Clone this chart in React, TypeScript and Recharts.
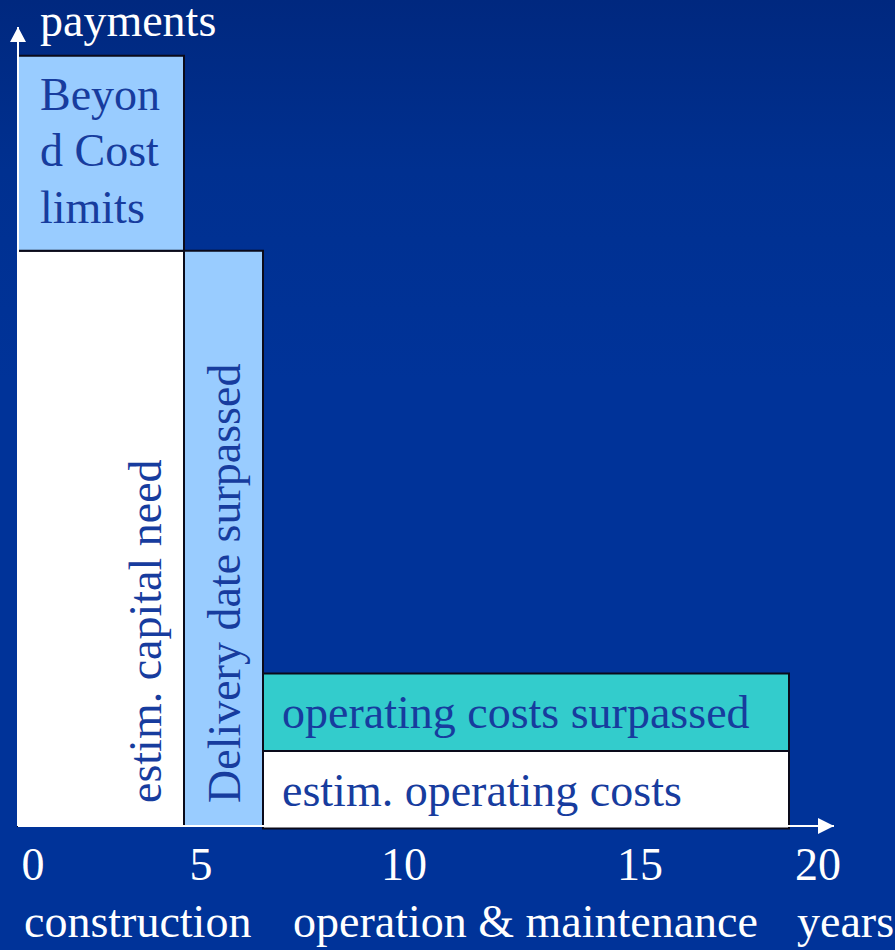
import React from "react";
import { ComposedChart, XAxis, YAxis, ReferenceArea, ReferenceDot, ReferenceLine } from "recharts";

// ---- data ----
const tickYears = [0, 5, 10, 15, 20];
const tickLabels = ["0", "5", "10", "15", "20"];
const blockNames = [
  "estim. capital need",
  "Beyond Cost limits",
  "Delivery date surpassed",
  "estim. operating costs",
  "operating costs surpassed",
];
const blockStartYear = [0, 0, 4.15, 6.125, 6.125];
const blockEndYear = [4.15, 4.15, 6.125, 19.275, 19.275];
const blockLow = [0, 72, 0, -0.3, 9.4];
const blockHigh = [72, 96.4, 72, 9.4, 19.1];
const beyondLines = ["Beyon", "d Cost", "limits"];
const phaseLabels = ["construction", "operation & maintenance", "years"];
const axisTitle = "payments";

// ---- style ----
const FONT = "'Liberation Serif', 'Times New Roman', serif";
const FS = 46;
const INK = "#173c9e";
const LIGHT = "#99ccff";
const TEAL = "#33cccc";
const WHITE = "#ffffff";
const blockFill = [WHITE, LIGHT, LIGHT, WHITE, TEAL];
const blockLabelStyle = ["vertical", "lines", "vertical", "flat", "flat"];
const tickNudge = [15, -17, -14, 22, 0];
const phaseX = [24, 293, 797];

const X_MAX = 20.4;

const W = 895;
const H = 950;

function makeLabel(i: number) {
  return (props: any) => {
    const vb = props.viewBox || {};
    const { x, y, width, height } = vb;
    const kind = blockLabelStyle[i];
    if (kind === "vertical") {
      const bx = x + width - 23;
      const by = y + height - 23;
      return (
        <text
          x={bx}
          y={by}
          transform={`rotate(-90 ${bx} ${by})`}
          fill={INK}
          fontFamily={FONT}
          fontSize={FS}
        >
          {blockNames[i]}
        </text>
      );
    }
    if (kind === "lines") {
      return (
        <text fill={INK} fontFamily={FONT} fontSize={FS}>
          {beyondLines.map((l, k) => (
            <tspan key={k} x={x + 22} y={y + 54 + k * 56.5}>
              {l}
            </tspan>
          ))}
        </text>
      );
    }
    return (
      <text x={x + 19} y={y + 55} fill={INK} fontFamily={FONT} fontSize={FS}>
        {blockNames[i]}
      </text>
    );
  };
}

const XTick = (props: any) => {
  const { x, payload } = props;
  const idx = tickYears.indexOf(payload.value);
  return (
    <text
      x={x + (tickNudge[idx] ?? 0)}
      y={880}
      textAnchor="middle"
      fill={WHITE}
      fontFamily={FONT}
      fontSize={FS}
    >
      {tickLabels[idx]}
    </text>
  );
};

const RightArrow = (props: any) => {
  const { cx, cy } = props;
  return <polygon points={`${cx},${cy} ${cx - 16},${cy - 8} ${cx - 16},${cy + 8}`} fill={WHITE} />;
};
const UpArrow = (props: any) => {
  const { cx, cy } = props;
  return <polygon points={`${cx},${cy} ${cx - 8},${cy + 15} ${cx + 8},${cy + 15}`} fill={WHITE} />;
};

export default function App() {
  return (
    <div
      style={{
        position: "absolute",
        left: 0,
        top: 0,
        width: W,
        height: H,
        background: "linear-gradient(180deg, #00287f 0%, #003090 18%, #003399 40%, #003399 100%)",
      }}
    >
      <ComposedChart
        width={W}
        height={H}
        data={[{ x: 0, y: 0 }]}
        margin={{ top: 27, right: W - 834, bottom: 64, left: 18 }}
      >
        <XAxis
          type="number"
          dataKey="x"
          domain={[0, X_MAX]}
          ticks={tickYears}
          tick={<XTick />}
          tickLine={false}
          axisLine={{ stroke: WHITE, strokeWidth: 2 }}
          height={60}
          allowDataOverflow
        />
        <YAxis
          type="number"
          domain={[0, 100]}
          tick={false}
          tickLine={false}
          width={0}
          axisLine={false}
          allowDataOverflow
        />
        <ReferenceLine x={0} stroke={WHITE} strokeWidth={2} ifOverflow="visible" />
        {blockNames.map((n, i) => (
          <ReferenceArea
            key={n}
            x1={blockStartYear[i]}
            x2={blockEndYear[i]}
            y1={blockLow[i]}
            y2={blockHigh[i]}
            fill={blockFill[i]}
            fillOpacity={1}
            stroke="#0a0a1a"
            strokeWidth={2}
            ifOverflow="visible"
            label={makeLabel(i)}
          />
        ))}
        <ReferenceDot x={X_MAX} y={0} ifOverflow="visible" shape={RightArrow} />
        <ReferenceDot x={0} y={100} ifOverflow="visible" shape={UpArrow} />
        <text x={40} y={36} fill={WHITE} fontFamily={FONT} fontSize={FS}>
          {axisTitle}
        </text>
        {phaseLabels.map((p, i) => (
          <text key={p} x={phaseX[i]} y={937} fill={WHITE} fontFamily={FONT} fontSize={FS}>
            {p}
          </text>
        ))}
      </ComposedChart>
    </div>
  );
}
